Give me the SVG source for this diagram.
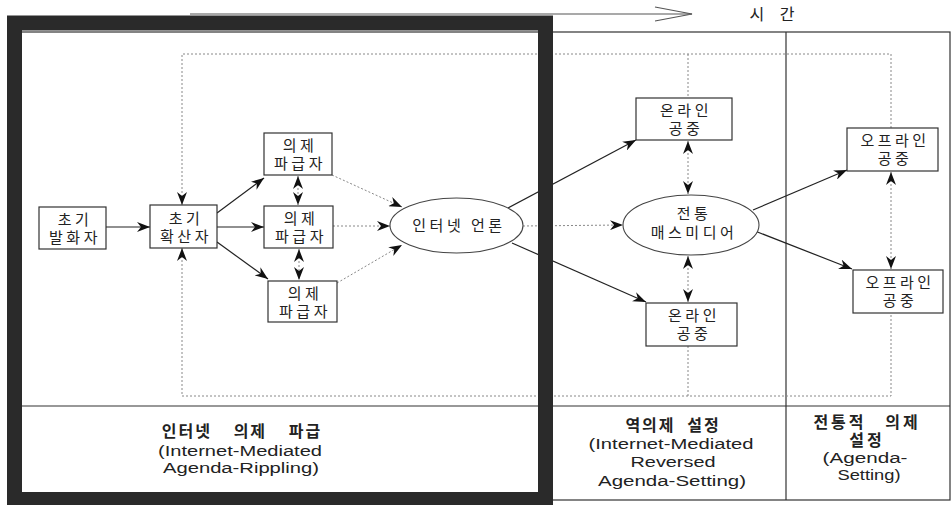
<svg xmlns="http://www.w3.org/2000/svg" width="952" height="505" viewBox="0 0 952 505">
  <style>
    .box { fill: #fff; stroke: #333; stroke-width: 1.2; }
    .ell { fill: #fff; stroke: #444; stroke-width: 1.1; }
    .kr { font-family: "Noto Sans CJK KR", "Noto Sans", sans-serif; font-size: 15px; fill: #222; text-anchor: middle; letter-spacing: 3.5px; }
    .krb { font-family: "Noto Sans CJK KR", "Noto Sans", sans-serif; font-size: 16px; font-weight: bold; fill: #222; text-anchor: middle; letter-spacing: 2px; }
    .en { font-family: "Liberation Sans", Arial, sans-serif; font-size: 14px; fill: #222; text-anchor: middle; }
    .solid { fill: none; stroke: #222; stroke-width: 1.2; }
    .dot { fill: none; stroke: #888; stroke-width: 1; stroke-dasharray: 2 2; }
    .rule { fill: none; stroke: #333; stroke-width: 1.2; }
  </style>
  <defs>
    <marker id="ah" viewBox="0 0 13 10" refX="13" refY="5" markerWidth="13" markerHeight="10" markerUnits="userSpaceOnUse" orient="auto-start-reverse">
      <path d="M0,0 L13,5 L0,10 L4,5 Z" fill="#111"/>
    </marker>
  </defs>

  <rect width="952" height="505" fill="#fff"/>

  <!-- time axis -->
  <g id="time-axis">
    <line x1="190" y1="14" x2="692" y2="14" stroke="#555" stroke-width="1.2"/>
    <polyline points="655,7 692,14 655,21" fill="none" stroke="#555" stroke-width="1.2"/>
    <text x="775" y="20" class="kr" style="font-size:16px;letter-spacing:6px">시 간</text>
  </g>

  <!-- table frame and column rules -->
  <g id="table">
    <rect x="21" y="32" width="929" height="468" class="rule"/>
    <line x1="21" y1="406" x2="950" y2="406" class="rule"/>
    <line x1="786" y1="32" x2="786" y2="500" class="rule"/>
  </g>

  <!-- connectors -->
  <g id="connectors">
    <!-- dotted feedback loop around the diagram -->
    <path d="M182,205 V54 H891 V128" class="dot" marker-start="url(#ah)"/>
    <path d="M182,248 V396 H891 V313" class="dot" marker-start="url(#ah)"/>
    <line x1="688" y1="54" x2="688" y2="98" class="dot"/>
    <line x1="688" y1="346" x2="688" y2="396" class="dot"/>

    <!-- solid flows -->
    <line x1="106" y1="227" x2="150" y2="227" class="solid" marker-end="url(#ah)"/>
    <line x1="217" y1="213" x2="264" y2="178" class="solid" marker-end="url(#ah)"/>
    <line x1="217" y1="227" x2="264" y2="227" class="solid" marker-end="url(#ah)"/>
    <line x1="217" y1="242" x2="268" y2="279" class="solid" marker-end="url(#ah)"/>
    <line x1="508" y1="208" x2="636" y2="140" class="solid" marker-end="url(#ah)"/>
    <line x1="512" y1="243" x2="646" y2="302" class="solid" marker-end="url(#ah)"/>
    <line x1="753" y1="210" x2="847" y2="170" class="solid" marker-end="url(#ah)"/>
    <line x1="755" y1="231" x2="852" y2="269" class="solid" marker-end="url(#ah)"/>

    <!-- dotted flows -->
    <line x1="332" y1="175" x2="402" y2="207" class="dot" marker-end="url(#ah)"/>
    <line x1="333" y1="226" x2="390" y2="226" class="dot" marker-end="url(#ah)"/>
    <line x1="337" y1="283" x2="402" y2="245" class="dot" marker-end="url(#ah)"/>
    <line x1="523" y1="226" x2="623" y2="225" class="dot" marker-end="url(#ah)"/>

    <!-- dotted two-way links -->
    <line x1="298" y1="176" x2="298" y2="205" class="dot" marker-start="url(#ah)" marker-end="url(#ah)"/>
    <line x1="299" y1="249" x2="299" y2="280" class="dot" marker-start="url(#ah)" marker-end="url(#ah)"/>
    <line x1="688" y1="141" x2="688" y2="194" class="dot" marker-start="url(#ah)" marker-end="url(#ah)"/>
    <line x1="688" y1="256" x2="688" y2="302" class="dot" marker-start="url(#ah)" marker-end="url(#ah)"/>
    <line x1="891" y1="172" x2="891" y2="269" class="dot" marker-start="url(#ah)" marker-end="url(#ah)"/>
  </g>

  <!-- nodes -->
  <g id="initial-speaker">
    <rect x="39" y="207" width="67" height="42" class="box"/>
    <text x="75" y="225" class="kr">초기</text>
    <text x="75" y="243" class="kr">발화자</text>
  </g>
  <g id="initial-spreader">
    <rect x="150" y="205" width="67" height="43" class="box"/>
    <text x="186" y="224" class="kr">초기</text>
    <text x="186" y="242" class="kr">확산자</text>
  </g>
  <g id="rippler-top">
    <rect x="264" y="133" width="68" height="42" class="box"/>
    <text x="300" y="151" class="kr">의제</text>
    <text x="300" y="169" class="kr">파급자</text>
  </g>
  <g id="rippler-middle">
    <rect x="264" y="206" width="69" height="42" class="box"/>
    <text x="301" y="224" class="kr">의제</text>
    <text x="301" y="242" class="kr">파급자</text>
  </g>
  <g id="rippler-bottom">
    <rect x="268" y="281" width="69" height="41" class="box"/>
    <text x="305" y="299" class="kr">의제</text>
    <text x="305" y="317" class="kr">파급자</text>
  </g>
  <g id="internet-press">
    <ellipse cx="456.5" cy="225.5" rx="66.5" ry="27.5" class="ell"/>
    <text x="459" y="231" class="kr">인터넷 언론</text>
  </g>
  <g id="online-public-top">
    <rect x="636" y="98" width="96" height="42" class="box"/>
    <text x="686" y="116" class="kr">온라인</text>
    <text x="686" y="134" class="kr">공중</text>
  </g>
  <g id="mass-media">
    <ellipse cx="691" cy="225" rx="68" ry="30" class="ell"/>
    <text x="694" y="219" class="kr">전통</text>
    <text x="694" y="238" class="kr">매스미디어</text>
  </g>
  <g id="online-public-bottom">
    <rect x="646" y="303" width="91" height="43" class="box"/>
    <text x="694" y="321" class="kr">온라인</text>
    <text x="694" y="339" class="kr">공중</text>
  </g>
  <g id="offline-public-top">
    <rect x="847" y="128" width="91" height="43" class="box"/>
    <text x="895" y="146" class="kr">오프라인</text>
    <text x="895" y="164" class="kr">공중</text>
  </g>
  <g id="offline-public-bottom">
    <rect x="853" y="270" width="90" height="43" class="box"/>
    <text x="900" y="288" class="kr">오프라인</text>
    <text x="900" y="306" class="kr">공중</text>
  </g>

  <!-- column captions -->
  <g id="caption-rippling">
    <text x="242" y="437" class="krb" style="word-spacing:16px">인터넷 의제 파급</text>
    <text x="240" y="456" class="en" textLength="164" lengthAdjust="spacingAndGlyphs">(Internet-Mediated</text>
    <text x="241" y="473" class="en" textLength="156" lengthAdjust="spacingAndGlyphs">Agenda-Rippling)</text>
  </g>
  <g id="caption-reversed">
    <text x="673" y="431" class="krb" style="word-spacing:6px">역의제 설정</text>
    <text x="671" y="449" class="en" textLength="165" lengthAdjust="spacingAndGlyphs">(Internet-Mediated</text>
    <text x="673" y="467" class="en" textLength="85" lengthAdjust="spacingAndGlyphs">Reversed</text>
    <text x="672" y="486" class="en" textLength="148" lengthAdjust="spacingAndGlyphs">Agenda-Setting)</text>
  </g>
  <g id="caption-agenda-setting">
    <text x="867" y="428" class="krb" style="letter-spacing:3px;word-spacing:12px">전통적 의제</text>
    <text x="867" y="446" class="krb" style="letter-spacing:3px">설정</text>
    <text x="865" y="463" class="en" textLength="85" lengthAdjust="spacingAndGlyphs">(Agenda-</text>
    <text x="869" y="480" class="en" textLength="63" lengthAdjust="spacingAndGlyphs">Setting)</text>
  </g>

  <!-- heavy highlight frame over the first stage -->
  <rect x="14.5" y="23" width="531" height="476.5" fill="none" stroke="#2a2a2a" stroke-width="15"/>
</svg>
